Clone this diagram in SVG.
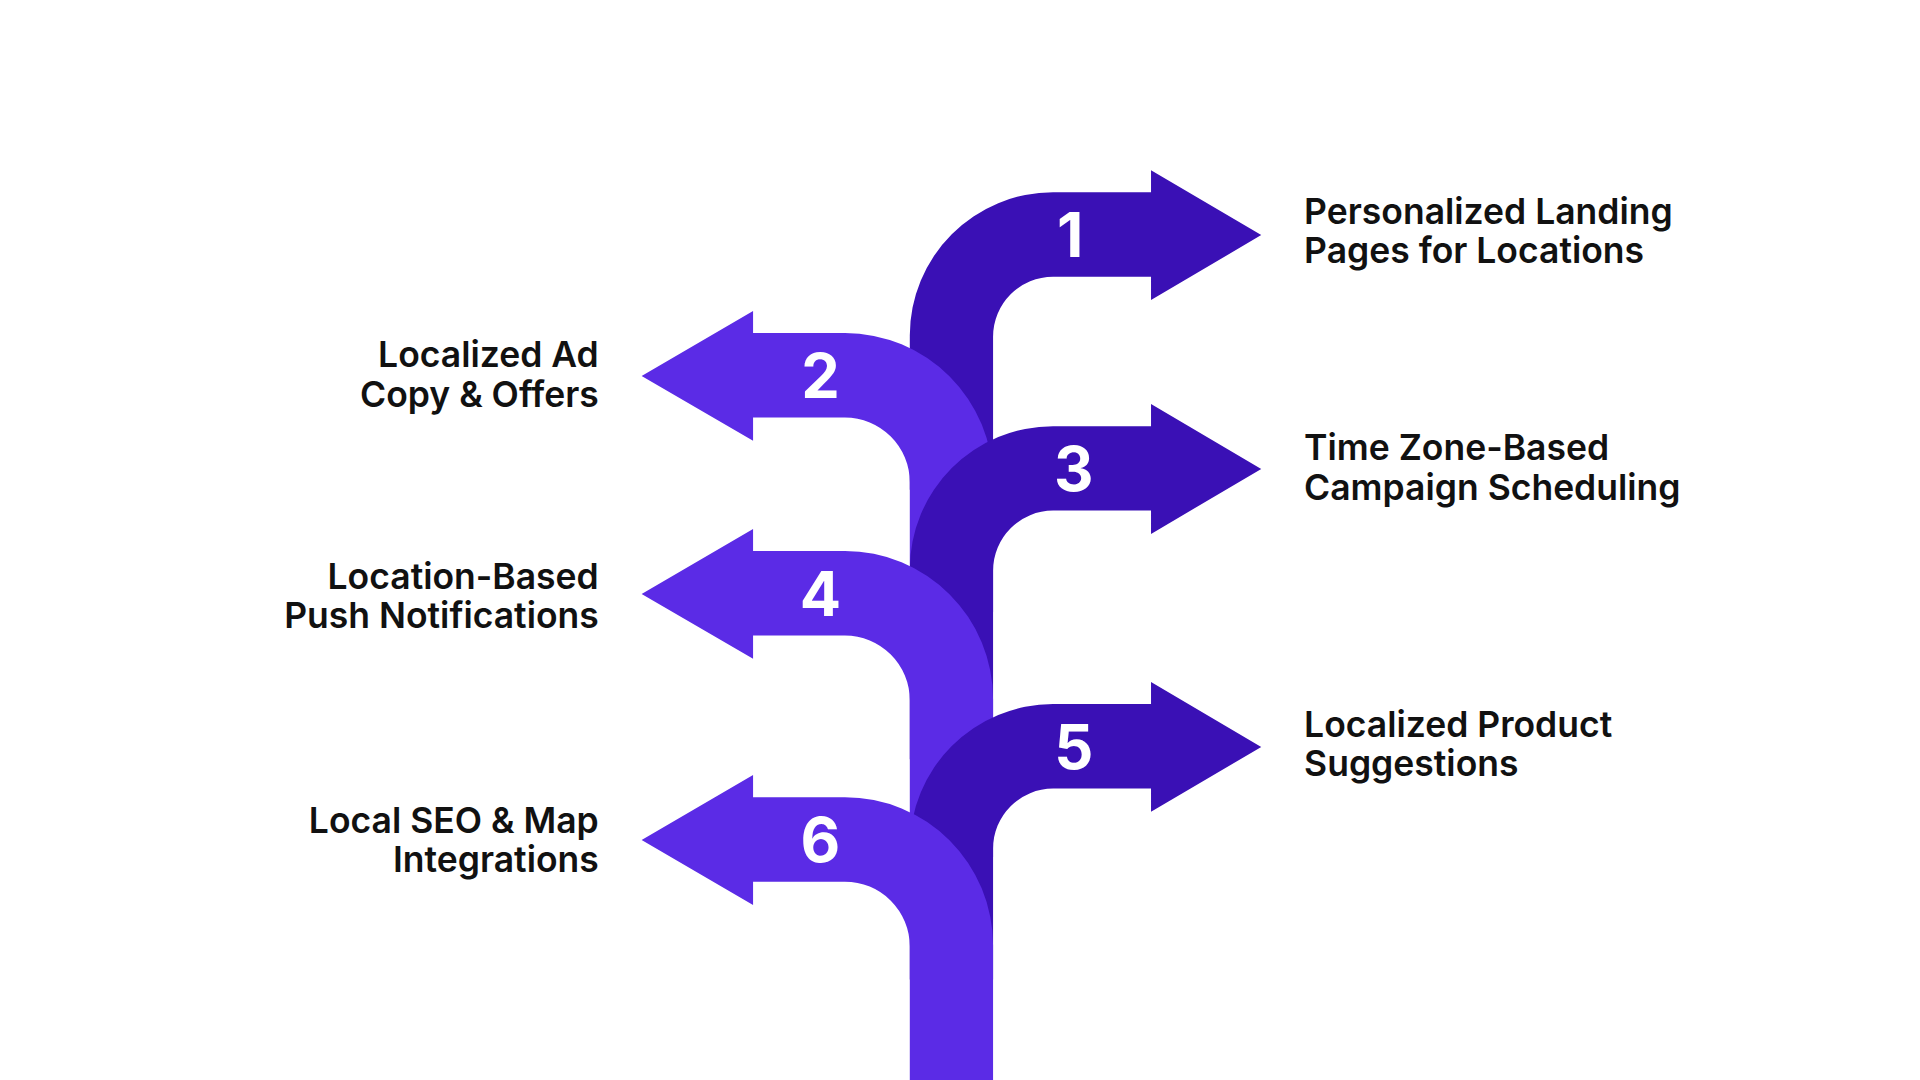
<svg xmlns="http://www.w3.org/2000/svg" width="1920" height="1080" viewBox="0 0 1920 1080">
<style>
.d{fill:#3a10b5}.l{fill:#5b2be6}
.n{font-family:Inter,"Liberation Sans",sans-serif;font-weight:700;font-size:50px;fill:#fff;text-anchor:middle}
.t{font-family:Inter,"Liberation Sans",sans-serif;font-weight:600;font-size:29px;fill:#111}
.r{text-anchor:end}
</style>
<rect width="1920" height="1080" fill="#fff"/>
<g transform="scale(1.2245)">
<g id="connectors"/>
<g id="node1"><path class="d" d="M743,400 L743,274 A117,117 0 0 1 860,157 L940,157 L940,139 L1030,192 L940,245 L940,226 L860,226 A49,49 0 0 0 811,275 L811,400 Z"/><text class="n" x="874" y="210">1</text></g>
<g id="node2"><path class="l" d="M615,272 L690,272 A121,121 0 0 1 811,393 L811,500 L743,500 L743,394 A53,53 0 0 0 690,341 L615,341 L615,360 L524,307 L615,254 Z"/><text class="n" x="670" y="325">2</text></g>
<g id="node3"><path class="d" d="M743,620 L743,465 A117,117 0 0 1 860,348 L940,348 L940,330 L1030,383 L940,436 L940,417 L860,417 A49,49 0 0 0 811,466 L811,620 Z"/><text class="n" x="877" y="401">3</text></g>
<g id="node4"><path class="l" d="M615,450 L690,450 A121,121 0 0 1 811,571 L811,700 L743,700 L743,572 A53,53 0 0 0 690,519 L615,519 L615,538 L524,485 L615,432 Z"/><text class="n" x="670" y="503">4</text></g>
<g id="node5"><path class="d" d="M743,800 L743,692 A117,117 0 0 1 860,575 L940,575 L940,557 L1030,610 L940,663 L940,644 L860,644 A49,49 0 0 0 811,693 L811,800 Z"/><text class="n" x="877" y="628">5</text></g>
<g id="node6"><path class="l" d="M615,651 L690,651 A121,121 0 0 1 811,772 L811,890 L743,890 L743,773 A53,53 0 0 0 690,720 L615,720 L615,739 L524,686 L615,633 Z"/><text class="n" x="670" y="704">6</text></g>
<g id="labels">
<text class="t" x="1065" y="183">Personalized Landing</text><text class="t" x="1065" y="215">Pages for Locations</text>
<text class="t r" x="489" y="300">Localized Ad</text><text class="t r" x="489" y="332">Copy &amp; Offers</text>
<text class="t" x="1065" y="376">Time Zone-Based</text><text class="t" x="1065" y="408">Campaign Scheduling</text>
<text class="t r" x="489" y="481">Location-Based</text><text class="t r" x="489" y="513">Push Notifications</text>
<text class="t" x="1065" y="602">Localized Product</text><text class="t" x="1065" y="634">Suggestions</text>
<text class="t r" x="489" y="680">Local SEO &amp; Map</text><text class="t r" x="489" y="712">Integrations</text>
</g>
</g>
</svg>
